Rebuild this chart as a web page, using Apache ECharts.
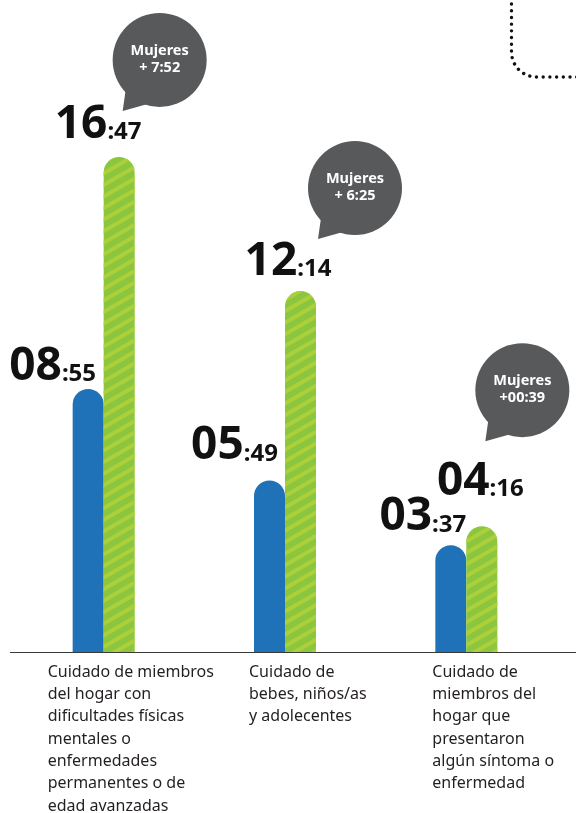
<!DOCTYPE html>
<html><head><meta charset="utf-8">
<script src="https://cdn.jsdelivr.net/npm/echarts@6.0.0/dist/echarts.min.js"></script>
<style>html,body{margin:0;padding:0;background:#fff}#c{width:576px;height:813px}</style>
</head><body><div id="c"></div>
<script>
// ---- data ----
const categories = [
  'Cuidado de miembros\ndel hogar con\ndificultades físicas\nmentales o\nenfermedades\npermanentes o de\nedad avanzadas',
  'Cuidado de\nbebes, niños/as\ny adolecentes',
  'Cuidado de\nmiembros del\nhogar que\npresentaron\nalgún síntoma o\nenfermedad'
];
const menMinutes = [535, 349, 217];     // 08:55, 05:49, 03:37
const womenMinutes = [1007, 734, 256];  // 16:47, 12:14, 04:16
const diffLabels = ['Mujeres\n+ 7:52', 'Mujeres\n+ 6:25', 'Mujeres\n+00:39'];

// ---- styling (positions kept apart from data) ----
const FONT = '"Noto Sans", "Open Sans", sans-serif';
const menLabelOffsets = [[-35.5, 0.5], [-35, -11.5], [-28, -5.5]];
const womenLabelOffsets = [[-21, -9.5], [-12.5, -6.5], [-1.5, -21.5]];
const bubbleOffsets = [[56, -97], [70, -103], [56, -136]];
const catLabelDx = [-56, -36, -34];

function fmt(min) {
  const h = Math.floor(min / 60), m = min % 60;
  return [String(h).padStart(2, '0'), String(m).padStart(2, '0')];
}
const rich = {
  h: { fontSize: 46, fontWeight: 'bold', color: '#111', fontFamily: FONT, verticalAlign: 'bottom' },
  m: { fontSize: 24, fontWeight: 'bold', color: '#111', fontFamily: FONT, verticalAlign: 'bottom', padding: [0, 0, 3, 0] }
};
function labelFormatter(p) {
  const t = fmt(p.value);
  return '{h|' + t[0] + '}{m|:' + t[1] + '}';
}

const chart = echarts.init(document.getElementById('c'), null, { renderer: 'canvas' });
const option = {
  animation: false,
  backgroundColor: '#fff',
  grid: { left: 13, right: 19, top: 62, bottom: 161 },
  xAxis: {
    type: 'category', data: categories,
    axisLine: { show: false }, axisTick: { show: false }, axisLabel: { show: false }
  },
  yAxis: { type: 'value', min: 0, max: 1200, show: false, splitLine: { show: false } },
  series: [
    {
      type: 'bar', name: 'Hombres', barWidth: 31, barGap: '0%',
      itemStyle: { color: '#1f72b8', borderRadius: [15.5, 15.5, 0, 0] },
      label: { show: true, position: 'top', distance: 0, formatter: labelFormatter, rich: rich },
      data: menMinutes.map((v, i) => ({ value: v, label: { offset: menLabelOffsets[i] } }))
    },
    {
      type: 'bar', name: 'Mujeres', barWidth: 31, barGap: '0%',
      itemStyle: {
        color: '#8cc63f', borderRadius: [15.5, 15.5, 0, 0],
        decal: { symbol: 'rect', symbolSize: 1, dashArrayX: [1, 0], dashArrayY: [3.5, 5.5], rotation: -Math.PI / 6, color: '#abd039' }
      },
      label: { show: true, position: 'top', distance: 0, formatter: labelFormatter, rich: rich },
      data: womenMinutes.map((v, i) => ({ value: v, label: { offset: womenLabelOffsets[i] } }))
    }
  ]
};
chart.setOption(option);

// graphics positioned from the library's scales
const elements = [];
const y0 = chart.convertToPixel({ yAxisIndex: 0 }, 0);
elements.push({ type: 'line', shape: { x1: 10, y1: y0 + 0.5, x2: 576, y2: y0 + 0.5 }, style: { stroke: '#3a3a3a', lineWidth: 1 }, z: 10 });
categories.forEach((c, i) => {
  const cx = chart.convertToPixel({ xAxisIndex: 0 }, i);
  elements.push({
    type: 'text', x: cx + catLabelDx[i], y: y0 + 9,
    style: { text: c, fill: '#231f20', font: '16px ' + FONT, lineHeight: 22.3, align: 'left', verticalAlign: 'top' }
  });
  const by = chart.convertToPixel({ yAxisIndex: 0 }, womenMinutes[i]);
  const bx = cx + bubbleOffsets[i][0], byy = by + bubbleOffsets[i][1];
  const r = 47;
  elements.push({
    type: 'group', x: bx, y: byy,
    children: [
      { type: 'circle', shape: { cx: 0, cy: 0, r: r }, style: { fill: '#58595b' } },
      { type: 'polygon', shape: { points: [[-34, 30], [-37, 51], [-12, 44]] }, style: { fill: '#58595b' } },
      { type: 'text', x: 0, y: -1, style: { text: diffLabels[i], fill: '#fff', font: 'bold 14.5px ' + FONT, lineHeight: 17, align: 'center', verticalAlign: 'middle' } }
    ]
  });
});
// decorative dotted corner (top right)
const cornerPts = [[511.5, 4]];
const R = 25, ccx = 536.5, ccy = 52;
for (let k = 0; k <= 24; k++) {
  const a = Math.PI - (k / 24) * (Math.PI / 2);
  cornerPts.push([ccx + R * Math.cos(a), ccy + R * Math.sin(Math.PI - a + Math.PI / 2 - Math.PI / 2) ]);
}
cornerPts.push([580, 77]);
elements.push({
  type: 'polyline', shape: { points: cornerPts },
  style: { fill: null, stroke: '#111', lineWidth: 3.4, lineDash: [0.01, 6.7], lineCap: 'round', lineJoin: 'round' }
});
chart.setOption({ graphic: { elements: elements } });
</script>
</body></html>
